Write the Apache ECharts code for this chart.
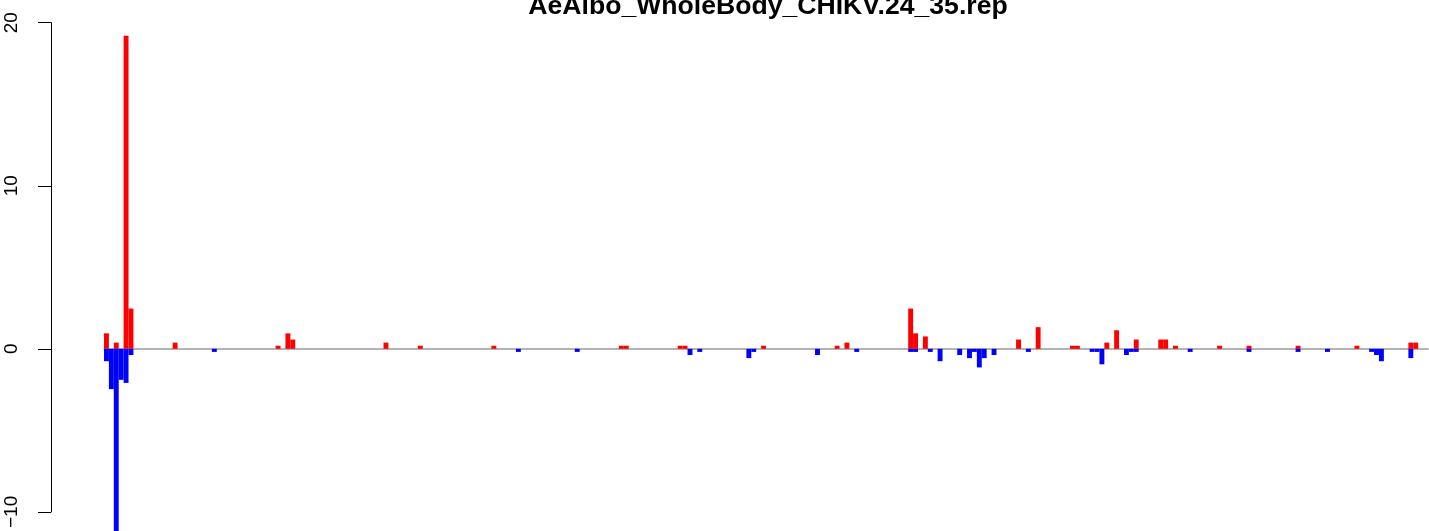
<!DOCTYPE html>
<html>
<head>
<meta charset="utf-8">
<script src="https://cdn.jsdelivr.net/npm/echarts@6/dist/echarts.min.js"></script>
<style>html,body{margin:0;padding:0;background:#fff}#c{width:1429px;height:531px}</style>
</head>
<body>
<div id="c"></div>
<script>
// Number of bins along the x axis
const binCount = 270;
// Positive (red) bars: bin index and value
const redBins   = [0, 2, 4, 5, 14, 35, 37, 38, 57, 64, 79, 105, 106, 117, 118, 134, 149, 151, 164, 165, 167, 186, 190, 197, 198, 204, 206, 210, 215, 216, 218, 227, 233, 243, 255, 266, 267];
const redValues = [0.95, 0.38, 19.2, 2.47, 0.38, 0.19, 0.95, 0.57, 0.38, 0.19, 0.19, 0.19, 0.19, 0.19, 0.19, 0.19, 0.19, 0.38, 2.47, 0.95, 0.76, 0.57, 1.33, 0.19, 0.19, 0.38, 1.14, 0.57, 0.57, 0.57, 0.19, 0.19, 0.19, 0.19, 0.19, 0.38, 0.38];
// Negative (blue) bars: bin index and value
const blueBins   = [0, 1, 2, 3, 4, 5, 22, 84, 96, 119, 121, 131, 132, 145, 153, 164, 165, 168, 170, 174, 176, 177, 178, 179, 181, 188, 201, 202, 203, 208, 209, 210, 221, 233, 243, 249, 258, 259, 260, 266];
const blueValues = [-0.76, -2.47, -11.5, -1.9, -2.09, -0.38, -0.19, -0.19, -0.19, -0.38, -0.19, -0.57, -0.19, -0.38, -0.19, -0.19, -0.19, -0.19, -0.76, -0.38, -0.57, -0.19, -1.14, -0.57, -0.38, -0.19, -0.19, -0.19, -0.95, -0.38, -0.19, -0.19, -0.19, -0.19, -0.19, -0.19, -0.19, -0.38, -0.76, -0.57];
// Y tick labels
const yMin = -10, yMax = 20, yStep = 10;
const titleText = 'AeAlbo_WholeBody_CHIKV.24_35.rep';

const categories = Array.from({length: binCount}, (_, i) => String(i));
const redData = Array(binCount).fill(null);
redBins.forEach((b, i) => { redData[b] = redValues[i]; });
const blueData = Array(binCount).fill(null);
blueBins.forEach((b, i) => { blueData[b] = blueValues[i]; });

const chart = echarts.init(document.getElementById('c'), null, {renderer: 'canvas'});
const font = 'Liberation Sans, Arial, Helvetica, sans-serif';
chart.setOption({
  animation: false,
  backgroundColor: '#ffffff',
  title: {
    text: titleText,
    left: 763,
    textAlign: 'center',
    top: -12,
    textStyle: {fontFamily: font, fontWeight: 'bold', fontSize: 26.6, color: '#000'}
  },
  grid: {left: 104, right: 1, top: 22.7, bottom: 16, containLabel: false},
  xAxis: {
    type: 'category',
    data: categories,
    axisLine: {show: true, onZero: true, lineStyle: {color: '#9a9a9a', width: 1.6}},
    axisTick: {show: false},
    axisLabel: {show: false},
    splitLine: {show: false}
  },
  yAxis: {
    type: 'value',
    min: yMin, max: yMax, interval: yStep,
    offset: 53,
    axisLine: {show: true, lineStyle: {color: '#000', width: 1}},
    axisTick: {show: true, length: 13, lineStyle: {color: '#000', width: 1}},
    axisLabel: {rotate: 90, margin: 30, fontFamily: font, fontSize: 19, color: '#000',
      formatter: v => String(v).replace('-', '\u2212')},
    splitLine: {show: false}
  },
  series: [
    {type: 'bar', data: redData, barWidth: '100%', barGap: '-100%', clip: false,
     itemStyle: {color: '#ff0000'}},
    {type: 'bar', data: blueData, barWidth: '100%', barGap: '-100%', clip: false,
     itemStyle: {color: '#0000ff'}}
  ]
});
</script>
</body>
</html>
